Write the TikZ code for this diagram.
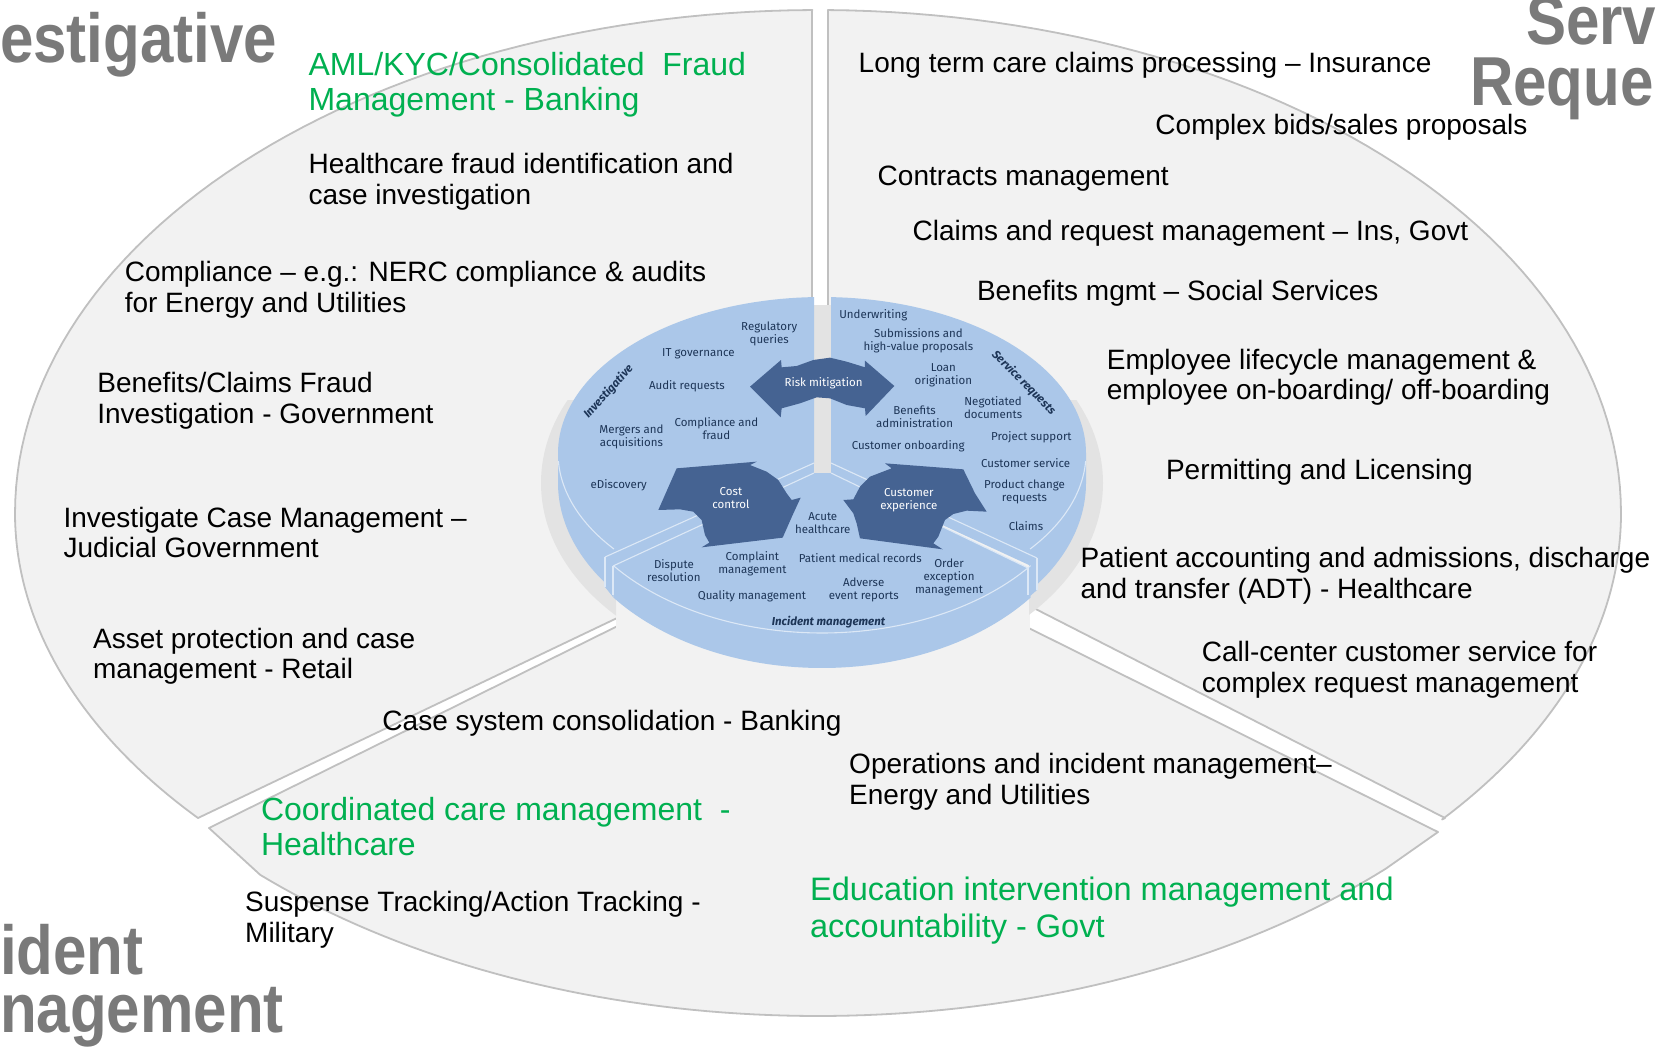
\documentclass[tikz,border=0pt]{standalone}
\usepackage{fontspec}
\setmainfont{Liberation Sans}
\newfontfamily\discfont{Fira Sans}
\definecolor{sectorfill}{HTML}{F2F2F2}
\definecolor{sectoredge}{HTML}{C0C0C0}
\definecolor{shadowgrey}{HTML}{E3E3E3}
\definecolor{discblue}{HTML}{ABC7E9}
\definecolor{discline}{HTML}{DCE8F6}
\definecolor{arrowblue}{HTML}{456392}
\definecolor{discink}{HTML}{1D3557}
\definecolor{textgreen}{HTML}{00B050}
\definecolor{headgrey}{HTML}{7A7A7A}
\tikzset{
  sector/.style={fill=sectorfill,draw=sectoredge,line width=1.8pt,line join=round},
  discpart/.style={fill=discblue,draw=none},
  discedge/.style={draw=discline,line width=1.1pt},
  bigarrow/.style={fill=arrowblue,draw=none},
  mainlabel/.style={anchor=west,inner sep=0pt,align=left,text=black,yshift=-2pt,font=\fontsize{28}{30.6}\selectfont},
  greenlabel/.style={anchor=west,inner sep=0pt,align=left,text=textgreen,yshift=-3pt,font=\fontsize{32}{35.5}\selectfont},
  headlabel/.style={anchor=west,inner sep=0pt,align=left,text=headgrey,font=\fontsize{66}{70}\selectfont\bfseries,xscale=.91,yscale=1.05},
  disclabel/.style={inner sep=0pt,align=center,text=discink,font=\discfont\fontsize{11.5}{13}\selectfont},
  arrowlabel/.style={inner sep=0pt,align=center,text=white,font=\discfont\fontsize{11.5}{13}\selectfont},
  sidelabel/.style={inner sep=0pt,text=discink,font=\discfont\itshape\bfseries\fontsize{11.5}{13}\selectfont},
  zoomframe/.style={shift={(530,280)},x=0.3827pt,y=-0.3333pt},
  cropframe/.style={x=0.3333pt,y=-0.3333pt},
  viewframe/.style={x=1.056pt,y=-1.056pt}
}
\begin{document}
\begin{tikzpicture}[x=1pt,y=-1pt]
\clip (0,0) rectangle (1656,1049);
\fill[white] (0,0) rectangle (1656,1049);
% outer sectors
\draw[sector] (812,10) -- plot[domain=269.6:180,samples=60] ({818+803*cos(\x)},{513+503*sin(\x)}) -- plot[domain=180:141,samples=40] ({818+803*cos(\x)},{513+480*sin(\x)}) -- (198,818) -- (812,525) -- cycle;
\draw[sector] (828,10) -- plot[domain=-89.3:0,samples=60] ({818+803*cos(\x)},{513+503*sin(\x)}) -- plot[domain=0:39,samples=40] ({818+803*cos(\x)},{513+487*sin(\x)}) -- (1445,818) -- (828,503) -- cycle;
\draw[sector] (209,828) -- plot[domain=134:45,samples=80] ({818+803*cos(\x)},{513+503*sin(\x)}) -- (1438,832) -- (822,525) -- cycle;
% the gaps between the sectors stop at the disc shadow
\fill[sectorfill] (616,540) rectangle (720,645);
\fill[sectorfill] (925,540) rectangle (1030,645);
% disc shadow
\begin{scope}
\clip (530,400) rectangle (616,640) (1029,400) rectangle (1120,640);
\fill[shadowgrey] (822,483) ellipse [x radius=281,y radius=195];
\end{scope}
\fill[discpart] (830,463) -- (1037,558) -- (1037,590) -- (1029,597) -- (1029,565) -- (830,473) -- cycle;
\fill[discpart] (814,463) -- (605,557) -- (605,587) -- (613,597) -- (613,566) -- (814,473) -- cycle;
\fill[shadowgrey] (814,305) rectangle (831,473);
% disc parts
\fill[discpart] (814,297) -- plot[domain=268:180,samples=50] ({822+264*cos(\x)},{453+156*sin(\x)}) -- plot[domain=180:142,samples=30] ({822+264*cos(\x)},{483+175*sin(\x)}) -- (605,557) -- (814,463) -- cycle;
\fill[discpart] (831,297) -- plot[domain=-88:0,samples=50] ({822+264*cos(\x)},{453+156*sin(\x)}) -- plot[domain=0:38,samples=30] ({822+264*cos(\x)},{483+175*sin(\x)}) -- (1037,558) -- (831,463) -- cycle;
\fill[discpart] (814,473) -- (613,566) -- plot[domain=142.2:37.8,samples=60] ({822+264*cos(\x)},{486+182*sin(\x)}) -- (1028,568) -- (831,473) -- cycle;
% pale edges of the disc
\draw[discedge] plot[domain=177:142,samples=30] ({822+264*cos(\x)},{453+156*sin(\x)});
\draw[discedge] plot[domain=3:38,samples=30] ({822+264*cos(\x)},{453+156*sin(\x)});
\draw[discedge] (605,557) -- (605,587);
\draw[discedge] (1037,558) -- (1037,590);
\draw[discedge] (613,566) -- (613,595);
\draw[discedge] (1028,568) -- (1028,595);
\draw[discedge] plot[domain=142:37.8,samples=60] ({822+264*cos(\x)},{459+174*sin(\x)});
\draw[discedge] (605,557) -- (814,463);
\draw[discedge] (613,566) -- (814,473);
\draw[discedge] (1037,558) -- (831,463);
\draw[discedge] (1028,568) -- (831,473);
% dark arrows
\begin{scope}[shift={(730,340)},cropframe]
\fill[bigarrow] (60,140) -- (153,60) -- (155,82) -- (200,78) -- (250,60) -- (300,53) -- (350,65) -- (405,82) -- (405,62) -- (493,138) -- (407,228) -- (405,205) -- (350,195) -- (300,175) -- (260,172) -- (210,190) -- (155,205) -- (152,232) -- cycle;
\end{scope}
\begin{scope}[shift={(590,440)},cropframe]
\fill[bigarrow] (205,210) -- (260,85) -- (500,65) -- (480,75) -- (530,95) -- (565,120) -- (590,160) -- (605,180) -- (632,173) -- (608,225) -- (578,293) -- (335,322) -- (358,308) -- (345,285) -- (335,240) -- (310,215) -- (270,208) -- cycle;
\end{scope}
\begin{scope}[shift={(820,440)},cropframe]
\fill[bigarrow] (70,180) -- (100,178) -- (120,140) -- (150,110) -- (215,85) -- (195,70) -- (430,88) -- (465,160) -- (500,215) -- (440,212) -- (400,222) -- (375,240) -- (355,290) -- (340,310) -- (368,328) -- (120,295) -- (110,250) -- (100,220) -- cycle;
\end{scope}
% disc labels, in the coordinates of the enlarged crop
\begin{scope}[zoomframe]
\node[arrowlabel] (risk) at (767,310) {Risk mitigation};
\node[arrowlabel] (cost) at (525,655) {Cost\\control};
\node[arrowlabel] (cx) at (990,660) {Customer\\experience};
\node[disclabel] (d1) at (625,162) {Regulatory\\queries};
\node[disclabel] (d2) at (440,222) {IT governance};
\node[sidelabel,rotate=48] (d3) at (205,335) {Investigative};
\node[disclabel] (d4) at (410,320) {Audit requests};
\node[disclabel] (d5) at (487,447) {Compliance and\\fraud};
\node[disclabel] (d6) at (265,472) {Mergers and\\acquisitions};
\node[disclabel] (d7) at (232,617) {eDiscovery};
\node[disclabel] (d8) at (765,728) {Acute\\healthcare};
\node[disclabel] (d9) at (897,105) {Underwriting};
\node[disclabel] (d10) at (1015,183) {Submissions and\\high-value proposals};
\node[sidelabel,rotate=-45] (d11) at (1290,308) {Service requests};
\node[disclabel] (d12) at (1080,285) {Loan\\origination};
\node[disclabel] (d13) at (1005,410) {Benefits\\administration};
\node[disclabel] (d14) at (1210,384) {Negotiated\\documents};
\node[disclabel] (d15) at (988,498) {Customer onboarding};
\node[disclabel] (d16) at (1310,473) {Project support};
\node[disclabel] (d17) at (1295,550) {Customer service};
\node[disclabel] (d18) at (1292,637) {Product change\\requests};
\node[disclabel] (d19) at (1296,737) {Claims};
\node[disclabel] (d20) at (376,873) {Dispute\\resolution};
\node[disclabel] (d21) at (581,852) {Complaint\\management};
\node[disclabel] (d22) at (863,833) {Patient medical records};
\node[disclabel] (d23) at (1095,892) {Order\\exception\\management};
\node[disclabel] (d24) at (580,948) {Quality management};
\node[disclabel] (d25) at (872,930) {Adverse\\event reports};
\node[sidelabel] (d26) at (780,1025) {Incident management};
\end{scope}
% labels, in the coordinates of the reference as viewed
\begin{scope}[viewframe]
\node[headlabel] (h1) at (0,42) {estigative};
\node[headlabel] (h2) at (1445,20) {Serv};
\node[headlabel] (h3) at (1392,84) {Reque};
\node[headlabel] (h4) at (0,899) {ident};
\node[headlabel] (h5) at (0,963) {nagement};
\node[greenlabel] (t1) at (292,77.5) {AML/KYC/Consolidated\ \ Fraud\\Management - Banking};
\node[mainlabel] (t2) at (292,170.5) {Healthcare fraud identification and\\case investigation};
\node[mainlabel] (t3) at (118,272.5) {Compliance – e.g.: NERC compliance \& audits\\for Energy and Utilities};
\node[mainlabel] (t4) at (92,377.5) {Benefits/Claims Fraud\\Investigation - Government};
\node[mainlabel] (t5) at (60,502.5) {Investigate Case Management –\\Judicial Government};
\node[mainlabel] (t6) at (88,619.5) {Asset protection and case\\management - Retail};
\node[mainlabel] (t7) at (362,683) {Case system consolidation - Banking};
\node[greenlabel,yshift=3pt] (t8) at (247,782.5) {Coordinated care management\ \ -\\Healthcare};
\node[mainlabel] (t9) at (232,869) {Suspense Tracking/Action Tracking -\\Military};
\node[mainlabel] (t10) at (804,738.5) {Operations and incident management–\\Energy and Utilities};
\node[greenlabel,font=\fontsize{32.5}{36.5}\selectfont] (t11) at (767,859.5) {Education intervention management and\\accountability - Govt};
\node[mainlabel] (t12) at (813,60) {Long term care claims processing – Insurance};
\node[mainlabel] (t13) at (1094,119) {Complex bids/sales proposals};
\node[mainlabel] (t14) at (831,167) {Contracts management};
\node[mainlabel] (t15) at (864,219) {Claims and request management – Ins, Govt};
\node[mainlabel] (t16) at (925,276) {Benefits mgmt – Social Services};
\node[mainlabel] (t17) at (1048,355.5) {Employee lifecycle management \&\\employee on-boarding/ off-boarding};
\node[mainlabel] (t18) at (1104,445) {Permitting and Licensing};
\node[mainlabel] (t19) at (1023,543.5) {Patient accounting and admissions, discharge\\and transfer (ADT) - Healthcare};
\node[mainlabel] (t20) at (1138,632.5) {Call-center customer service for\\complex request management};
\end{scope}
\end{tikzpicture}
\end{document}
